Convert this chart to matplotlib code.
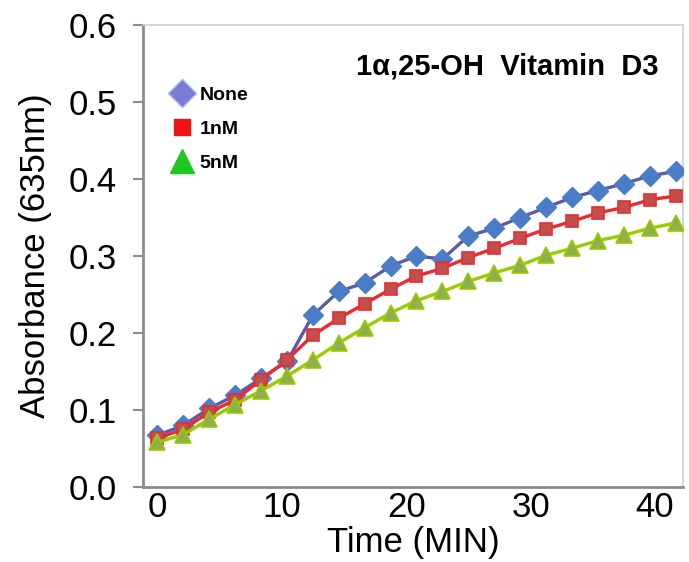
import matplotlib
matplotlib.use("Agg")
import matplotlib.pyplot as plt
from matplotlib.lines import Line2D

# ---- data ----
time_min = [0, 2.08, 4.17, 6.25, 8.33, 10.42, 12.5, 14.58, 16.67, 18.75, 20.83,
            22.92, 25.0, 27.08, 29.17, 31.25, 33.33, 35.42, 37.5, 39.58, 41.67]
none_vals = [0.067, 0.080, 0.102, 0.119, 0.141, 0.163, 0.223, 0.254, 0.265, 0.287, 0.300,
             0.296, 0.326, 0.336, 0.350, 0.363, 0.376, 0.385, 0.394, 0.404, 0.410]
nm1_vals = [0.063, 0.075, 0.097, 0.113, 0.139, 0.165, 0.197, 0.219, 0.238, 0.257, 0.274,
            0.284, 0.298, 0.310, 0.323, 0.335, 0.345, 0.356, 0.363, 0.373, 0.378]
nm5_vals = [0.058, 0.068, 0.088, 0.107, 0.125, 0.144, 0.165, 0.187, 0.207, 0.226, 0.242,
            0.254, 0.267, 0.278, 0.288, 0.301, 0.310, 0.320, 0.327, 0.336, 0.343]
series_labels = ["None", "1nM", "5nM"]
x_ticks = [0, 10, 20, 30, 40]
y_ticks = [0.0, 0.1, 0.2, 0.3, 0.4, 0.5, 0.6]
title_text = "1\u03b1,25-OH  Vitamin  D3"

plt.rcParams['font.family'] = ['Liberation Sans', 'DejaVu Sans']

fig = plt.figure(figsize=(6.89, 5.62), dpi=100)
ax = fig.add_axes([143/689, 75/562, 540/689, 462/562])

ax.plot(time_min, none_vals, color='#5b5ba8', lw=2.4, marker='D', ms=10,
        mfc='#4a7cc8', mec='#4a7cc8', zorder=3)
ax.plot(time_min, nm1_vals, color='#ec2a2e', lw=2.4, marker='s', ms=8,
        mfc='#c0504d', mec='#ec2a2e', mew=1.2, zorder=4)
ax.plot(time_min, nm5_vals, color='#99cc00', lw=2.4, marker='^', ms=12,
        mfc='#8fae4e', mec='#99cc00', mew=1.2, zorder=5)

ax.set_xlim(-1.15, 42.25)
ax.set_ylim(0, 0.6)
ax.set_xticks(x_ticks)
ax.set_yticks(y_ticks)
ax.set_yticklabels([f"{v:.1f}" for v in y_ticks])
ax.tick_params(axis='x', length=0, labelsize=25, pad=3)
ax.tick_params(axis='y', length=7, width=1.5, color='#8c8c8c', labelsize=25, pad=12)

for s in ['left', 'bottom']:
    ax.spines[s].set_color('#8c8c8c')
    ax.spines[s].set_linewidth(2)
for s in ['top', 'right']:
    ax.spines[s].set_color('#d0d0d0')
    ax.spines[s].set_linewidth(1.2)

ax.set_xlabel("Time (MIN)", fontsize=25, labelpad=1)
ax.set_ylabel("Absorbance (635nm)", fontsize=25, labelpad=12)

ax.text(0.955, 0.91, title_text, transform=ax.transAxes, ha='right', va='center',
        fontsize=21, fontweight='bold')

handles = [
    Line2D([], [], ls='none', marker='D', ms=14, mfc='#7b7bd6', mec='#9fb8e6', mew=1),
    Line2D([], [], ls='none', marker='s', ms=12, mfc='#f01414', mec='#f01414'),
    Line2D([], [], ls='none', marker='^', ms=17, mfc='#1ec81e', mec='#1ec81e'),
]
leg = ax.legend(handles, series_labels, loc='upper left', bbox_to_anchor=(0.04, 0.885),
                frameon=False, prop={'weight': 'bold', 'size': 14},
                handlelength=1.0, handletextpad=0.4, labelspacing=0.85, borderaxespad=0)

fig.savefig("out.png", dpi=100)
